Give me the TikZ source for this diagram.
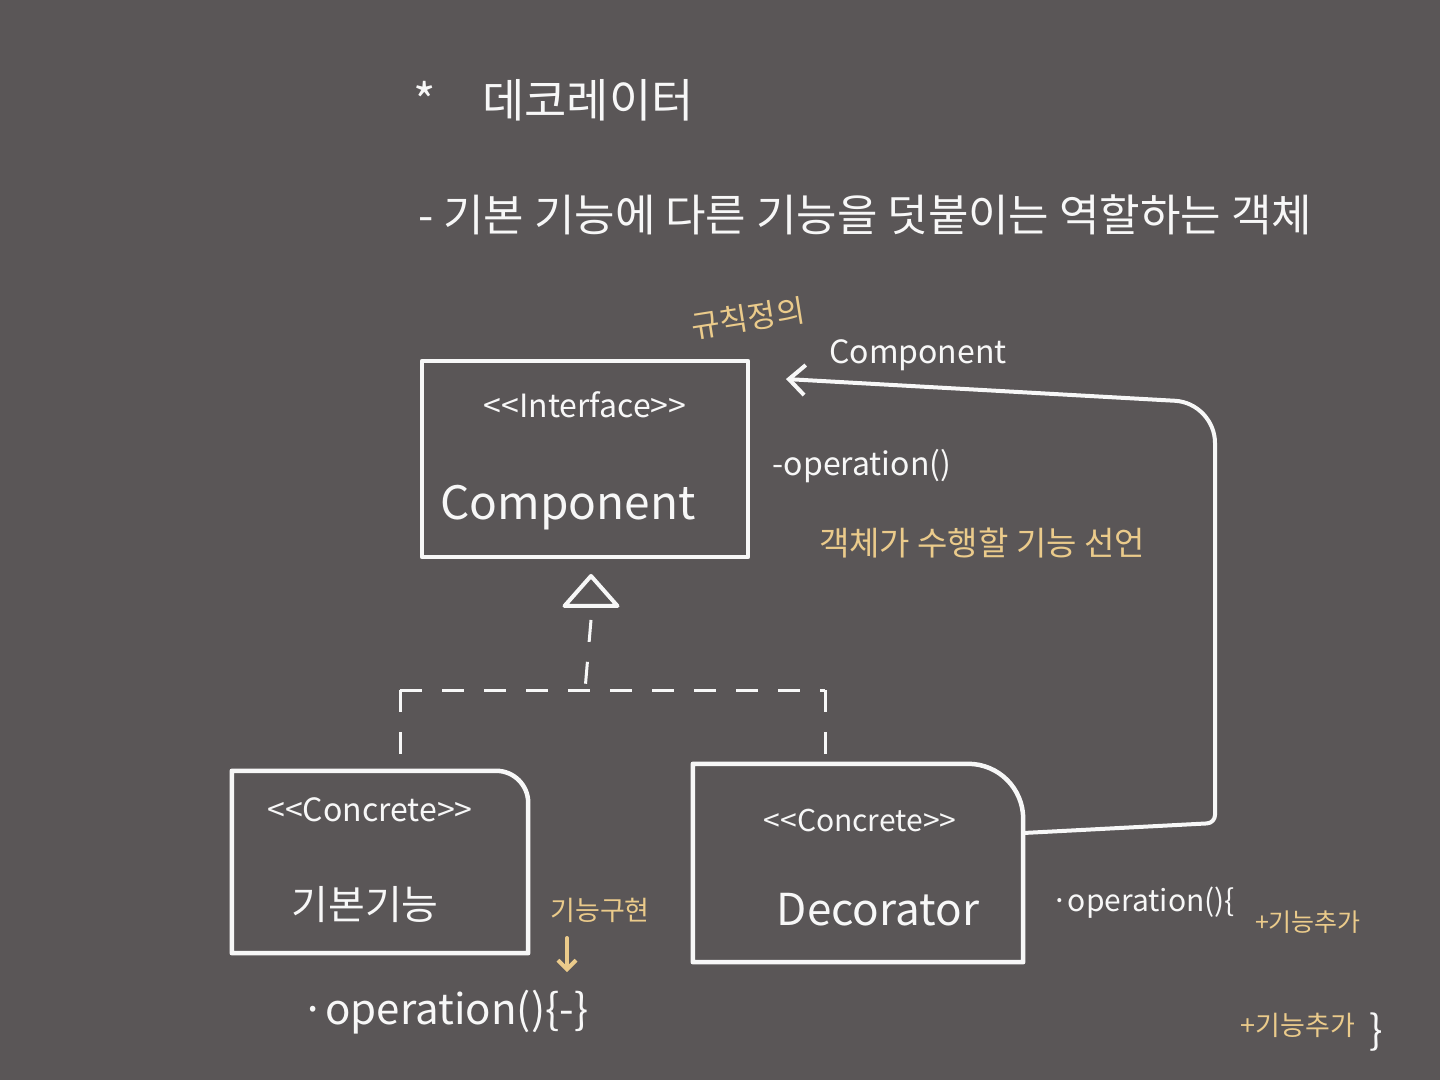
\documentclass[tikz,border=0pt]{standalone}
\usepackage{fontspec}
\setmainfont{Noto Sans CJK KR}[Ligatures=ResetAll]
\usetikzlibrary{arrows.meta,shapes.geometric}
\definecolor{bg}{HTML}{5A5657}
\definecolor{chalk}{HTML}{F7F7F7}
\definecolor{ochre}{HTML}{EBCB8B}
\tikzset{
  wtext/.style={text=chalk, inner sep=0pt},
  ytext/.style={text=ochre, inner sep=0pt},
  pen/.style={draw=chalk, line width=4.5pt, line join=round, line cap=round},
  dashpen/.style={draw=chalk, line width=3pt, dash pattern=on 22pt off 20pt},
  fs/.style={font=\fontsize{#1}{#1}\selectfont}
}
\begin{document}
\begin{tikzpicture}[x=1pt,y=-1pt]
\fill[bg] (0,0) rectangle (1440,1080);
\useasboundingbox (0,0) rectangle (1440,1080);

% titles
\node[wtext, fs=48] (star) at (425,100) {*};
\node[wtext, fs=46] (title) at (588,100) {데코레이터};
\node[wtext, fs=44, anchor=west] (sub) at (418,215) {- 기본 기능에 다른 기능을 덧붙이는 역할하는 객체};

% interface box
\node[pen, minimum width=326pt, minimum height=196pt, inner sep=0pt] (iface) at (585,459) {};
\node[wtext, fs=32] (iftag) at (585,405) {<{}<Interface>{}>};
\node[wtext, fs=46] (ifname) at (568,508) {Component};
\node[ytext, fs=31, rotate=9] (rule) at (748,318) {규칙정의};
\node[wtext, fs=32] (op1) at (862,466) {-operation()};
\node[ytext, fs=33] (decl) at (982,543) {객체가 수행할 기능 선언};

% triangle
\node[pen, line width=4pt, isosceles triangle, isosceles triangle stretches, shape border rotate=90,
      minimum width=53pt, minimum height=30pt, inner sep=0pt] (tri) at (591,594) {};

% concrete boxes (anchor nodes)
\node[minimum width=296pt, minimum height=182pt, inner sep=0pt] (base) at (380,862) {};
\node[minimum width=330pt, minimum height=198pt, inner sep=0pt] (deco) at (858,863) {};
\draw[pen] (base.north west) -- (base.south west) -- (base.south east)
  [rounded corners=32pt] -- (base.north east) -- (base.north west);
\draw[pen] (deco.north west) -- (deco.south west) -- (deco.south east)
  [rounded corners=55pt] -- (deco.north east) -- (deco.north west);

\node[wtext, fs=32] (ctag1) at (370,810) {<{}<Concrete>{}>};
\node[wtext, fs=40] (bname) at (365,905) {기본기능};
\node[wtext, fs=30] (ctag2) at (860,820) {<{}<Concrete>{}>};
\node[wtext, fs=44] (dname) at (878,910) {Decorator};

% realization dashed lines
\coordinate (jm) at (585,690);
\coordinate (jl) at (400,690);
\coordinate (jr) at (825,690);
\draw[dashpen] (tri.south) ++(0,12) -- (jm);
\draw[dashpen] (jl) -- (jr);
\draw[dashpen, shorten >=14pt] (jl) -- (jl |- base.north);
\draw[dashpen, shorten >=8pt] (jr) -- (jr |- deco.north);

% aggregation arrow decorator -> component
\coordinate (c1) at (1215,823);
\coordinate (c2) at (1215,403);
\coordinate (aend) at (786,379);
\draw[pen, line width=4pt, -{Straight Barb[length=16pt,width=30pt,line width=4pt]}]
  ([yshift=30pt]deco.east) [rounded corners=8pt] -- (c1) [rounded corners=40pt] -- (c2) -- (aend);
\node[wtext, fs=32] (clabel) at (918,355) {Component};

% left operation
\node[ytext, fs=27] (impl) at (600,910) {기능구현};
\coordinate (ia) at (567,938);
\coordinate (ib) at (567,972);
\draw[draw=ochre, line width=4pt, line cap=round, -{Straight Barb[length=9pt,width=18pt,line width=4pt]}] (ia) -- (ib);
\node[wtext, fs=42] (op2) at (445,1012) {·operation()\{-\}};

% right operation
\node[wtext, fs=30] (op3) at (1143,903) {·operation()\{};
\node[ytext, fs=25] (add1) at (1308,922) {+기능추가};
\node[ytext, fs=27] (add2) at (1298,1025) {+기능추가};
\node[wtext, fs=40] (close) at (1376,1032) {\}};
\end{tikzpicture}
\end{document}
